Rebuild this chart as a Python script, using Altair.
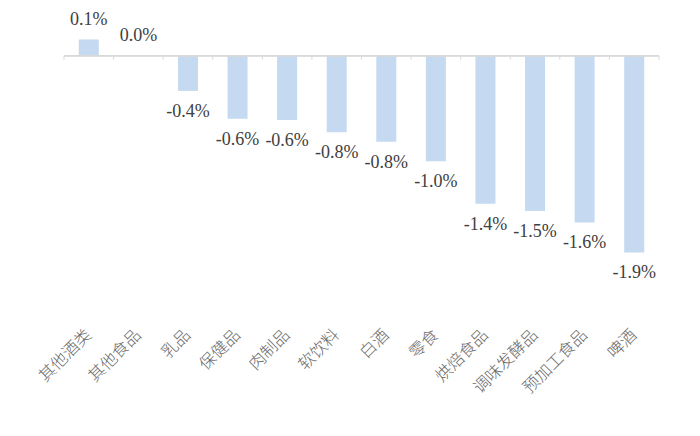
import altair as alt
import pandas as pd

categories = ["其他酒类", "其他食品", "乳品", "保健品", "肉制品", "软饮料", "白酒",
              "零食", "烘焙食品", "调味发酵品", "预加工食品", "啤酒"]
values = [0.155, 0.0, -0.34, -0.61, -0.62, -0.74, -0.83, -1.02, -1.43, -1.50, -1.61, -1.90]
labels = ["0.1%", "0.0%", "-0.4%", "-0.6%", "-0.6%", "-0.8%", "-0.8%", "-1.0%",
          "-1.4%", "-1.5%", "-1.6%", "-1.9%"]

df = pd.DataFrame({"cat": categories, "val": values, "lab": labels})

W = 595
H = 317
SERIF = "Liberation Serif"
xenc = alt.X("cat:N", sort=categories,
             scale=alt.Scale(paddingInner=0, paddingOuter=0),
             axis=alt.Axis(title=None, labelAngle=-45, labelAlign="right",
                           labelBaseline="middle", domain=False, ticks=False,
                           labelPadding=7, labelFont="Noto Sans CJK SC",
                           labelFontSize=16.5, labelFontWeight=300,
                           labelColor="#6a6a6a"))
yscale = alt.Scale(domain=[-2.6, 0.46], nice=False, zero=False)
yenc = alt.Y("val:Q", scale=yscale, axis=None)

base = alt.Chart(df)

bars = base.mark_bar(size=20, color="#c5d9f1").encode(x=xenc, y=yenc, y2=alt.datum(0))

pos_text = base.transform_filter("datum.val >= 0").mark_text(
    dy=-20, font=SERIF, fontSize=18, color="#404040", baseline="middle"
).encode(x=alt.X("cat:N", sort=categories), y=alt.Y("val:Q", scale=yscale), text="lab:N")

neg_text = base.transform_filter("datum.val < 0").mark_text(
    dy=21, font=SERIF, fontSize=18, color="#404040", baseline="middle"
).encode(x=alt.X("cat:N", sort=categories), y=alt.Y("val:Q", scale=yscale), text="lab:N")

zero_line = base.mark_rule(color="#d9d9d9", strokeWidth=1).encode(
    x=alt.value(0), x2=alt.value(W), y=alt.datum(0))

ticks = base.mark_rule(color="#d9d9d9", strokeWidth=1, xOffset=-W / 24).encode(
    x=alt.X("cat:N", sort=categories), y=alt.datum(0), y2=alt.datum(-0.04))

last_tick = base.transform_filter(f"datum.cat == '{categories[-1]}'").mark_rule(
    color="#d9d9d9", strokeWidth=1, xOffset=W / 24).encode(
    x=alt.X("cat:N", sort=categories), y=alt.datum(0), y2=alt.datum(-0.04))

chart = alt.layer(bars, zero_line, ticks, last_tick, pos_text, neg_text).properties(
    width=W, height=H,
    background="white",
    autosize=alt.AutoSizeParams(type="none"),
    padding={"left": 56, "top": 0, "right": 20, "bottom": 100},
).configure_view(stroke=None, strokeWidth=0)

chart.save("out.html", embed_options={"renderer": "svg", "actions": False})
